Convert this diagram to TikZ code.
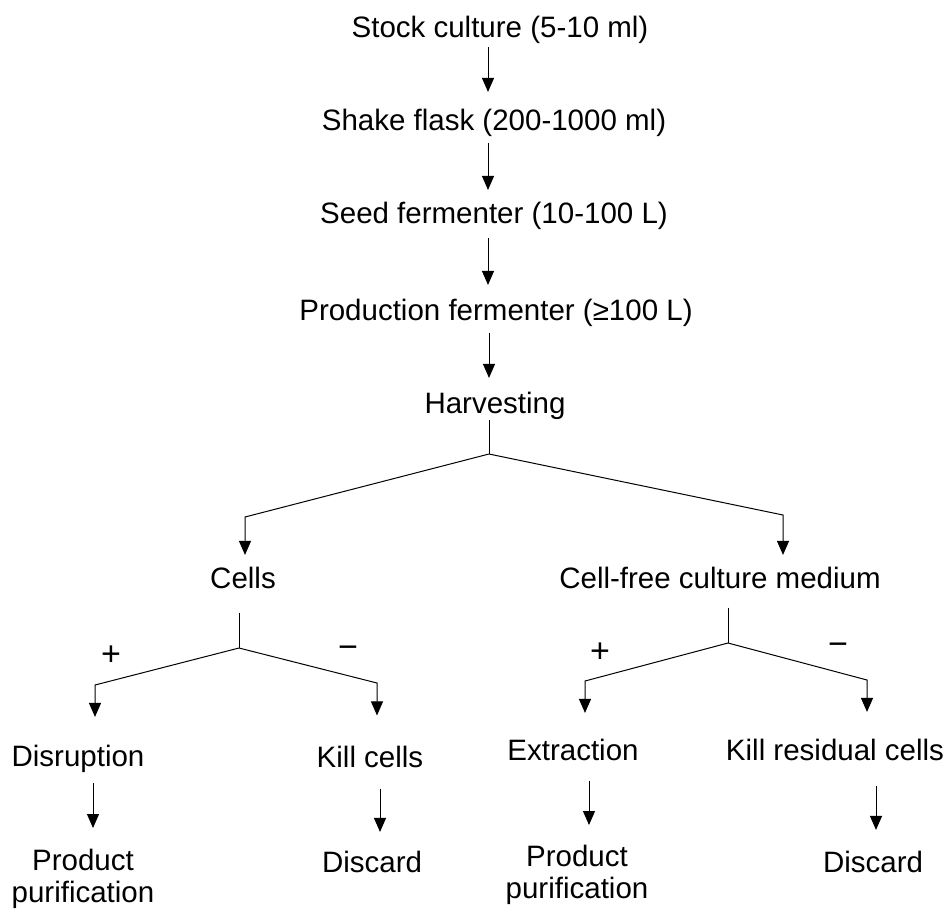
\documentclass[tikz,border=0pt]{standalone}
\usepackage{fontspec}
\setmainfont{Liberation Sans}
\usetikzlibrary{arrows.meta}
\begin{document}
\begin{tikzpicture}[x=1pt,y=-1pt,
  txt/.style={inner sep=0pt, anchor=base, font=\fontsize{29.5}{32.5}\selectfont},
  txttwo/.style={inner sep=0pt, anchor=north, align=center, font=\fontsize{29.5}{32.5}\selectfont},
  sgn/.style={inner sep=0pt, anchor=base, font=\fontsize{34}{36}\selectfont},
  ln/.style={line width=1pt, black},
  arr/.style={line width=1pt, black, -{Triangle[length=14pt,width=12pt]}}]
\useasboundingbox[fill=white] (0,0) rectangle (950,914);
% main column nodes
\node[txt] (stock) at (500,37) {Stock culture (5-10 ml)};
\node[txt] (shake) at (494,130) {Shake flask (200-1000 ml)};
\node[txt] (seed)  at (494,223) {Seed fermenter (10-100 L)};
\node[txt] (prod)  at (496,320) {Production fermenter (≥100 L)};
\node[txt] (harv)  at (495,413) {Harvesting};
\node[txt] (cells) at (243,588) {Cells};
\node[txt] (cfree) at (720,588) {Cell-free culture medium};
\node[txt] (disr)  at (78,766) {Disruption};
\node[txt] (kill)  at (370,767) {Kill cells};
\node[txt] (extr)  at (573,760) {Extraction};
\node[txt] (kres)  at (835,760) {Kill residual cells};
\node[txttwo] (ppl) at (83,848.5) {Product\\purification};
\node[txt] (discl) at (372,872) {Discard};
\node[txttwo] (ppr) at (577,844.5) {Product\\purification};
\node[txt] (discr) at (873,872) {Discard};
% signs
\node[sgn] (pl) at (111,665) {+};
\node[sgn] (ml) at (348,658) {−};
\node[sgn] (pr) at (600,662) {+};
\node[sgn] (mr) at (838,655) {−};
% coordinates
\coordinate (col) at (488,0);
\coordinate (colb) at (489,0);
\coordinate (hj) at (489,454);
\coordinate (hl) at (245,517);
\coordinate (hr) at (783,515);
\coordinate (cj) at (239,648);
\coordinate (cl) at (95,685);
\coordinate (cr) at (377,683);
\coordinate (fj) at (728,643);
\coordinate (fl) at (585,681);
\coordinate (fr) at (867,680);
\coordinate (dx) at (93,0);
\coordinate (kx) at (380,0);
\coordinate (ex) at (589,0);
\coordinate (rx) at (876,0);
% main column arrows
\draw[arr, shorten <=3.8pt, shorten >=16.5pt] (stock.south -| col) -- (shake.north -| col);
\draw[arr, shorten <=6.8pt, shorten >=11.5pt] (shake.south -| col) -- (seed.north -| col);
\draw[arr, shorten <=8.8pt, shorten >=13.5pt] (seed.south -| col) -- (prod.north -| col);
\draw[arr, shorten <=6.8pt, shorten >=13.5pt] (prod.south -| colb) -- (harv.north -| colb);
% harvesting branch
\draw[ln, shorten <=0.8pt] (harv.south -| hj) -- (hj);
\draw[arr, shorten >=11.5pt] (hj) -- (hl) -- (cells.north -| hl);
\draw[arr, shorten >=11.5pt] (hj) -- (hr) -- (cfree.north -| hr);
% cells branch
\draw[ln, shorten <=24pt] (cells.south -| cj) -- (cj);
\draw[arr, shorten >=27.5pt] (cj) -- (cl) -- (disr.north -| cl);
\draw[arr, shorten >=30pt] (cj) -- (cr) -- (kill.north -| cr);
% cell-free branch
\draw[ln, shorten <=19pt] (cfree.south -| fj) -- (fj);
\draw[arr, shorten >=25.5pt] (fj) -- (fl) -- (extr.north -| fl);
\draw[arr, shorten >=26.5pt] (fj) -- (fr) -- (kres.north -| fr);
% bottom arrows
\draw[arr, shorten <=10.8pt, shorten >=20.5pt] (disr.south -| dx) -- (ppl.north -| dx);
\draw[arr, shorten <=21pt, shorten >=18.5pt] (kill.south -| kx) -- (discl.north -| kx);
\draw[arr, shorten <=20pt, shorten >=19.5pt] (extr.south -| ex) -- (ppr.north -| ex);
\draw[arr, shorten <=25pt, shorten >=20.5pt] (kres.south -| rx) -- (discr.north -| rx);
\end{tikzpicture}
\end{document}
